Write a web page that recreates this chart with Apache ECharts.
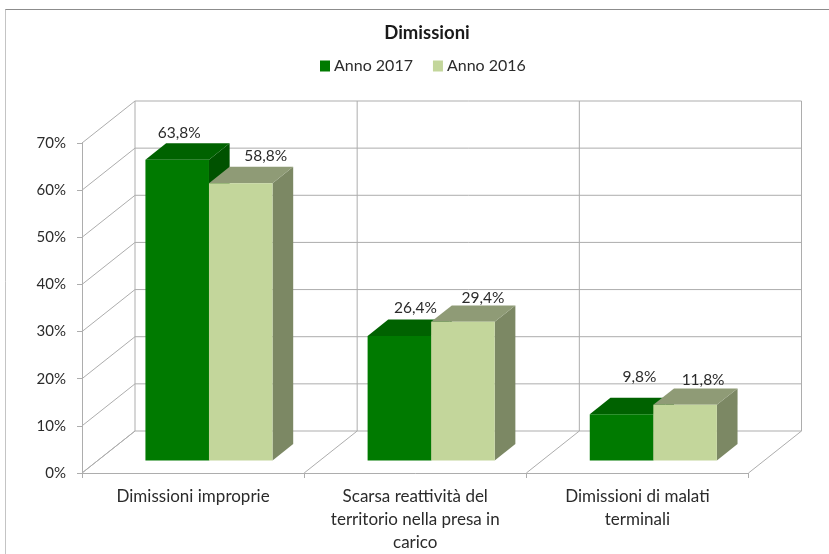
<!DOCTYPE html>
<html>
<head>
<meta charset="utf-8">
<script src="https://cdn.jsdelivr.net/npm/echarts@6/dist/echarts.min.js"></script>
<style>
html,body{margin:0;padding:0;background:#fff}
#chart{width:829px;height:554px}
</style>
</head>
<body>
<div id="chart"></div>
<script>
const categories = [
  'Dimissioni improprie',
  'Scarsa reattività del\nterritorio nella presa in\ncarico',
  'Dimissioni di malati\nterminali'
];
const anno2017 = [63.8, 26.4, 9.8];
const anno2016 = [58.8, 29.4, 11.8];
const yTicks = [0, 10, 20, 30, 40, 50, 60, 70];

// Oblique projection of the chart box: how far the back wall sits from the front plane
const WALL_DX = 53, WALL_DY = -42;
// Bars start part-way into the box and fill part of its depth
const BAR_START = 0.3, BAR_DEPTH = 0.39;
const BAR_RATIO = 63.5 / 222;
const GRID_COLOR = '#adadad', TEXT_COLOR = '#2b2b2b';
const FONT = 'Lato';

const comma = v => v.toFixed(1).replace('.', ',') + '%';
// Per-series, per-category shifts of the value labels from the bar's top face
const labelShift = {
  'Anno 2017': [[2, -27], [16, -28], [18, -37]],
  'Anno 2016': [[25, -27], [20, -24], [18, -25]]
};

function shade(faces, slot) {
  return function (params, api) {
    const cat = api.value(0), val = api.value(1);
    const band = api.size([1, 0])[0];
    const w = band * BAR_RATIO;
    const top = api.coord([cat, val]);
    const base = api.coord([cat, 0]);
    const ox = WALL_DX * BAR_START, oy = WALL_DY * BAR_START;
    const dx = WALL_DX * BAR_DEPTH, dy = WALL_DY * BAR_DEPTH;
    const x0 = base[0] + ox + (slot - 1) * w, x1 = x0 + w;
    const yt = top[1] + oy, yb = base[1] + oy;
    const poly = (pts, fill) => ({ type: 'polygon', shape: { points: pts }, style: { fill: fill } });
    const shift = labelShift[params.seriesName][cat];
    return {
      type: 'group',
      children: [
        poly([[x1, yt], [x1 + dx, yt + dy], [x1 + dx, yb + dy], [x1, yb]], faces.side),
        poly([[x0, yt], [x0 + dx, yt + dy], [x1 + dx, yt + dy], [x1, yt]], faces.top),
        poly([[x0, yt], [x1, yt], [x1, yb], [x0, yb]], faces.front),
        {
          type: 'text',
          z2: 10,
          style: {
            x: (x0 + x1) / 2 + shift[0],
            y: yt + shift[1],
            text: comma(val),
            fill: TEXT_COLOR,
            font: '15.5px ' + FONT,
            textAlign: 'center',
            textVerticalAlign: 'middle'
          }
        }
      ]
    };
  };
}

const gridLine = (x1, y1, x2, y2) => ({
  type: 'line',
  shape: { x1, y1, x2, y2 },
  style: { stroke: GRID_COLOR, lineWidth: 1 }
});

// Left wall and back wall rules at each value tick
function renderValueRule(params, api) {
  const cs = params.coordSys;
  const y = api.coord([0, api.value(1)])[1];
  return {
    type: 'group',
    children: [
      gridLine(cs.x, y, cs.x + WALL_DX, y + WALL_DY),
      gridLine(cs.x + WALL_DX, y + WALL_DY, cs.x + cs.width + WALL_DX, y + WALL_DY)
    ]
  };
}

// Floor diagonals and back wall uprights at each category boundary
function renderCategoryRule(params, api) {
  const cs = params.coordSys;
  const band = api.size([1, 0])[0];
  const cx = api.coord([api.value(0), 0])[0];
  const yBase = cs.y + cs.height;
  const edges = [cx - band / 2];
  if (params.dataIndex === categories.length - 1) edges.push(cx + band / 2);
  const children = [];
  edges.forEach(x => {
    children.push(gridLine(x, yBase, x + WALL_DX, yBase + WALL_DY));
    children.push(gridLine(x + WALL_DX, yBase + WALL_DY, x + WALL_DX, cs.y + WALL_DY));
  });
  return { type: 'group', children };
}

const chart = echarts.init(document.getElementById('chart'), null, { renderer: 'canvas' });
chart.setOption({
  animation: false,
  backgroundColor: '#fff',
  title: {
    text: 'Dimissioni',
    left: 422,
    top: 19,
    textAlign: 'center',
    textStyle: { fontFamily: FONT, fontSize: 18.5, fontWeight: 'bold', color: '#1a1a1a' }
  },
  legend: {
    data: ['Anno 2017', 'Anno 2016'],
    left: 315,
    top: 53,
    icon: 'rect',
    itemWidth: 10,
    itemHeight: 11,
    itemGap: 20,
    textStyle: { fontFamily: FONT, fontSize: 16, color: TEXT_COLOR, padding: [0, 0, 0, -1] }
  },
  grid: { left: 82, top: 143, width: 666.5, height: 331 },
  xAxis: {
    type: 'category',
    data: categories,
    axisLine: { lineStyle: { color: GRID_COLOR, width: 1 } },
    axisTick: { show: true, length: 5, alignWithLabel: false, lineStyle: { color: GRID_COLOR } },
    axisLabel: {
      interval: 0, margin: 12, fontFamily: FONT, fontSize: 17, lineHeight: 23, color: TEXT_COLOR
    }
  },
  yAxis: {
    type: 'value',
    min: 0,
    max: 70,
    interval: 10,
    axisLine: { show: true, lineStyle: { color: GRID_COLOR, width: 1 } },
    axisTick: { show: true, length: 5, lineStyle: { color: GRID_COLOR } },
    splitLine: { show: false },
    axisLabel: {
      margin: 16, fontFamily: FONT, fontSize: 15, color: TEXT_COLOR,
      formatter: v => v + '%'
    }
  },
  series: [
    {
      type: 'custom', name: 'valueRules', z: 1, silent: true, clip: false,
      renderItem: renderValueRule,
      encode: { x: 0, y: 1 },
      data: yTicks.map(t => [0, t])
    },
    {
      type: 'custom', name: 'categoryRules', z: 1, silent: true, clip: false,
      renderItem: renderCategoryRule,
      encode: { x: 0, y: 1 },
      data: categories.map((c, i) => [i, 0])
    },
    {
      type: 'custom', name: 'Anno 2017', z: 3, clip: false,
      itemStyle: { color: '#007a00' },
      renderItem: shade({ front: '#007a00', top: '#006200', side: '#005200' }, 0),
      encode: { x: 0, y: 1 },
      data: anno2017.map((v, i) => [i, v])
    },
    {
      type: 'custom', name: 'Anno 2016', z: 4, clip: false,
      itemStyle: { color: '#c3d69b' },
      renderItem: shade({ front: '#c3d69b', top: '#8f9b76', side: '#7c8864' }, 1),
      encode: { x: 0, y: 1 },
      data: anno2016.map((v, i) => [i, v])
    }
  ],
  graphic: [
    { type: 'line', silent: true, shape: { x1: 5, y1: 9.5, x2: 829, y2: 9.5 }, style: { stroke: '#8c8c8c', lineWidth: 1 } },
    { type: 'line', silent: true, shape: { x1: 5.5, y1: 9.5, x2: 5.5, y2: 554 }, style: { stroke: '#c4c4c4', lineWidth: 1 } }
  ]
});
</script>
</body>
</html>
